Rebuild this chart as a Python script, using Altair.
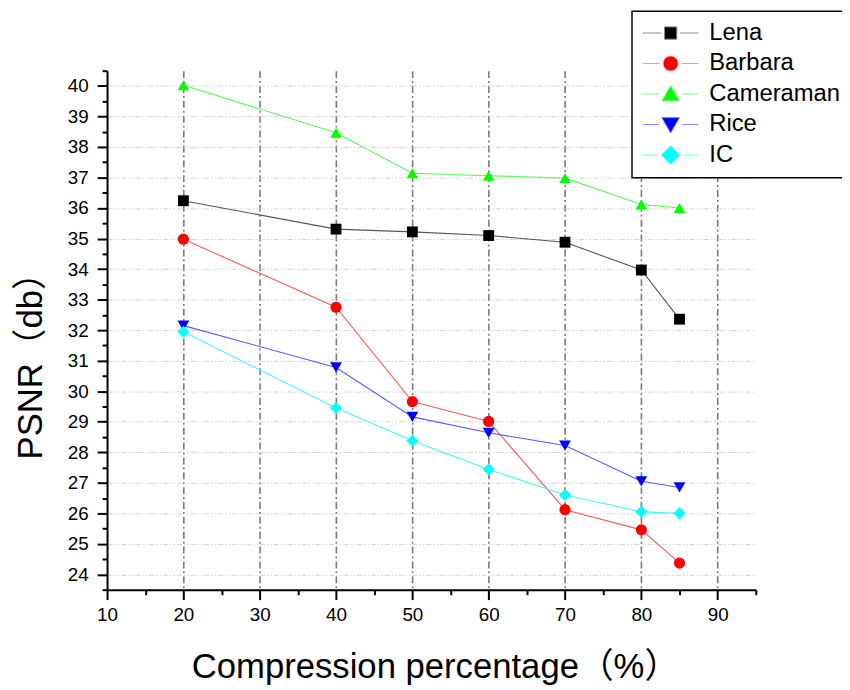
import altair as alt
import pandas as pd

# ---- data ----
compression = [20, 40, 50, 60, 70, 80, 85]
series_names = ["Lena", "Barbara", "Cameraman", "Rice", "IC"]
lena = [36.24, 35.31, 35.22, 35.10, 34.88, 33.97, 32.36]
barbara = [34.98, 32.75, 29.66, 29.01, 26.12, 25.46, 24.37]
cameraman = [40.02, 38.47, 37.14, 37.06, 36.98, 36.12, 36.00]
rice = [32.15, 30.78, 29.16, 28.64, 28.22, 27.05, 26.85]
ic = [31.95, 29.45, 28.38, 27.44, 26.60, 26.05, 26.00]

marker_colors = ["#000000", "#ff0000", "#00ff00", "#0000ff", "#00ffff"]
line_colors = ["#555555", "#ff5a5a", "#5cf55c", "#5a5aff", "#4af5f5"]
legend_line_colors = ["#8a8a8a", "#ff9090", "#80ff80", "#8080ff", "#70ffff"]
plot_shapes = ["square", "circle", "triangle-up", "triangle-down", "diamond"]
marker_sizes = [120, 150, 250, 240, 230]

# legend symbols: line + marker (units of 10 px, symbol size 400)
legend_paths = [
    "M-2.8,0H-0.95M0.95,0H2.8M-0.62,-0.62H0.62V0.62H-0.62Z",
    "M-2.8,0H-1.05M1.05,0H2.8M-0.75,0A0.75,0.75,0,1,0,0.75,0A0.75,0.75,0,1,0,-0.75,0Z",
    "M-2.8,0H-1.2M1.2,0H2.8M0,-0.85L0.9,0.7L-0.9,0.7Z",
    "M-2.8,0H-1.2M1.2,0H2.8M0,0.85L0.9,-0.7L-0.9,-0.7Z",
    "M-2.8,0H-1.25M1.25,0H2.8M-0.95,0L0,-0.95L0.95,0L0,0.95Z",
]

rows = []
for name, vals in zip(series_names, [lena, barbara, cameraman, rice, ic]):
    for xv, yv in zip(compression, vals):
        rows.append({"series": name, "x": xv, "y": yv})
df = pd.DataFrame(rows)

FONT = "Liberation Sans, Arial, Noto Sans CJK SC"

x_scale = alt.Scale(domain=[10, 95], nice=False, zero=False)
y_scale = alt.Scale(domain=[23.5, 40.5], nice=False, zero=False)

x_vals = [10 + 5 * i for i in range(18)]
y_vals = [23.5 + 0.5 * i for i in range(35)]

x_axis = alt.Axis(
    values=x_vals, tickCount=200,
    labelExpr="datum.value % 10 === 0 ? format(datum.value, 'd') : ''",
    tickSize={"condition": {"test": "datum.value % 10 !== 0", "value": 5}, "value": 10},
    tickWidth=2, tickColor="#000000",
    domainColor="#000000", domainWidth=2,
    labelFont=FONT, labelFontSize=19, labelColor="#000000", labelPadding=6,
    labelFlush=False, labelOverlap=False,
    grid=True, gridColor="#7a7a7a", gridWidth=1.6, gridDash=[7, 3, 2, 3],
    gridOpacity={"condition": {"test": "datum.value % 10 === 0 && datum.value > 10", "value": 1}, "value": 0},
    title="Compression percentage（%）",
    titleFont=FONT, titleFontSize=35, titleFontWeight="normal", titleColor="#000000",
    titleAlign="left", titleBaseline="alphabetic", titleX=85, titleY=89,
)

y_axis = alt.Axis(
    values=y_vals, tickCount=200,
    labelExpr="datum.value % 1 === 0 ? format(datum.value, 'd') : ''",
    tickSize={"condition": {"test": "datum.value % 1 !== 0", "value": 5}, "value": 10},
    tickWidth=2, tickColor="#000000",
    domainColor="#000000", domainWidth=2,
    labelFont=FONT, labelFontSize=19, labelColor="#000000", labelPadding=9,
    labelFlush=False, labelOverlap=False,
    grid=True, gridColor="#d2d2d2", gridWidth=1, gridDash=[5, 2, 1.5, 2, 1.5, 2],
    gridOpacity={"condition": {"test": "datum.value % 1 === 0", "value": 1}, "value": 0},
    title="PSNR（db）",
    titleFont=FONT, titleFontSize=35, titleFontWeight="normal", titleColor="#000000",
    titleAngle=270, titleAlign="left", titleBaseline="alphabetic", titleX=-66, titleY=392,
)

base = alt.Chart(df)

lines = base.mark_line(strokeWidth=1.1).encode(
    x=alt.X("x:Q", scale=x_scale, axis=x_axis),
    y=alt.Y("y:Q", scale=y_scale, axis=y_axis),
    color=alt.Color("series:N", scale=alt.Scale(domain=series_names, range=line_colors), legend=None),
    detail="series:N",
)

points = base.mark_point(filled=True, opacity=1).encode(
    x=alt.X("x:Q", scale=x_scale),
    y=alt.Y("y:Q", scale=y_scale),
    fill=alt.Fill("series:N", scale=alt.Scale(domain=series_names, range=marker_colors), legend=None),
    shape=alt.Shape("series:N", scale=alt.Scale(domain=series_names, range=plot_shapes), legend=None),
    size=alt.Size("series:N", scale=alt.Scale(domain=series_names, range=marker_sizes), legend=None),
)

legend_props = dict(
    orient="none", legendX=530, legendY=-60, title=None,
    labelFont=FONT, labelFontSize=24, labelColor="#000000", labelLimit=400,
    symbolSize=400, symbolStrokeWidth=1, symbolOffset=17, labelOffset=27,
    padding=10, rowPadding=6.8, strokeColor="#000000", fillColor="#ffffff",
)

legend_layer = base.mark_point(filled=True, opacity=1).encode(
    x=alt.X("x:Q", scale=x_scale),
    y=alt.Y("y:Q", scale=y_scale),
    fill=alt.Fill("series:N", scale=alt.Scale(domain=series_names, range=marker_colors),
                  legend=alt.Legend(**legend_props)),
    stroke=alt.Stroke("series:N", scale=alt.Scale(domain=series_names, range=legend_line_colors),
                      legend=alt.Legend(**legend_props)),
    shape=alt.Shape("series:N", scale=alt.Scale(domain=series_names, range=legend_paths),
                    legend=alt.Legend(**legend_props)),
).transform_filter("datum.x < 0")

chart = alt.layer(lines, points, legend_layer).resolve_scale(
    color="independent", fill="independent", shape="independent", stroke="independent", size="independent"
).properties(
    width=655, height=524,
    autosize=alt.AutoSizeParams(type="none"),
    padding={"left": 100, "top": 60, "right": 87, "bottom": 98},
    background="#ffffff",
).configure_view(stroke=None).configure_legend(strokeWidth=1.5)

chart.save("out.html", embed_options={"renderer": "svg", "actions": False})
